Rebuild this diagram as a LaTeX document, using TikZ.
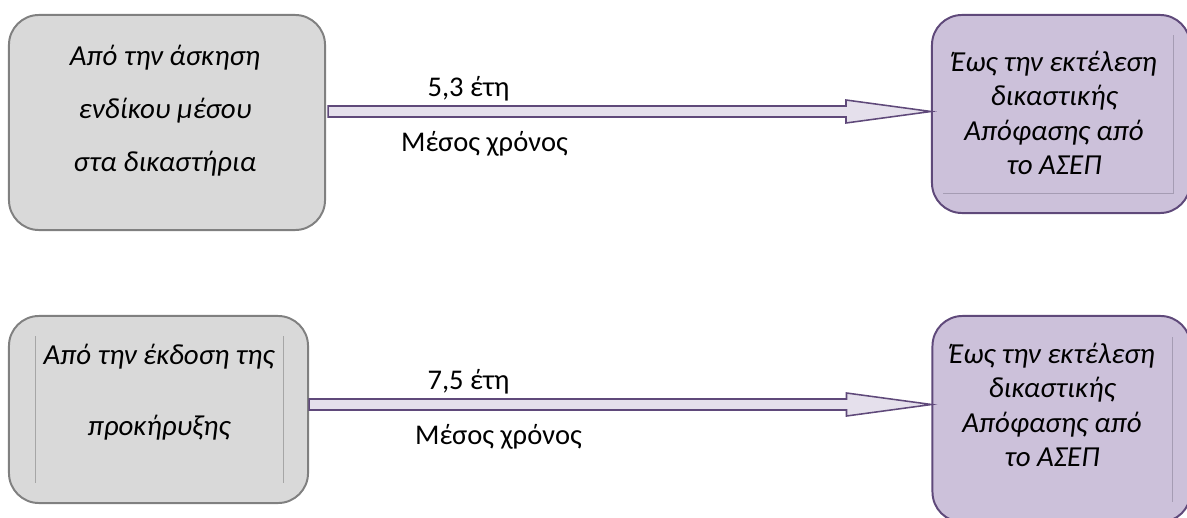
\documentclass[tikz,border=0pt]{standalone}
\usepackage{fontspec}
\setmainfont{Carlito}
\usepackage{tikz}
\usetikzlibrary{positioning,calc}
\definecolor{grayfill}{HTML}{D9D9D9}
\definecolor{graydraw}{HTML}{808080}
\definecolor{lilacfill}{HTML}{CCC1DA}
\definecolor{lilacdraw}{HTML}{5F497A}
\definecolor{arrowfill}{HTML}{E5E0EC}
\definecolor{frameline}{HTML}{A6A6A6}
\definecolor{lilacframe}{HTML}{A59CB3}

\begin{document}
\begin{tikzpicture}[x=0.025cm, y=-0.025cm, line join=miter]
\tikzstyle{every node}=[inner sep=0pt, font=\fontsize{20}{24}\selectfont]
\tikzstyle{from box}=[rectangle, rounded corners=0.75cm, fill=grayfill, draw=graydraw, line width=1.4pt]
\tikzstyle{to box}=[rectangle, rounded corners=0.75cm, fill=lilacfill, draw=lilacdraw, line width=1.4pt, minimum width=6.45cm]
\tikzstyle{box text}=[align=center, font=\itshape\fontsize{20.6}{24.5}\selectfont]
\tikzstyle{time label}=[font=\fontsize{20.3}{24}\selectfont]
\tikzstyle{block arrow}=[fill=arrowfill, draw=lilacdraw, line width=1.1pt]
\useasboundingbox (0,0) rectangle (1187,518);

% boxes
\node[from box, minimum width=7.9cm, minimum height=5.375cm] (askisi) at (167,122.5) {};
\node[box text] (askisi text) at (165,110.5) {Από την άσκηση\\[13.2pt] ενδίκου μέσου\\[13.2pt] στα δικαστήρια};
\node[to box, minimum height=4.95cm] (ektelesi1) at (1061,114) {};
\node[box text] (ektelesi1 text) at (1054,113) {Έως την εκτέλεση\\ δικαστικής\\ Απόφασης από\\ το ΑΣΕΠ};

\node[from box, minimum width=7.475cm, minimum height=4.675cm] (ekdosi) at (158.5,409.5) {};
\node[box text] (ekdosi text) at (159,392.5) {Από την έκδοση της\\[26pt] προκήρυξης};
\node[to box, minimum height=5.15cm] (ektelesi2) at (1061.5,419) {};
\node[box text] (ektelesi2 text) at (1052,405) {Έως την εκτέλεση\\ δικαστικής\\ Απόφασης από\\ το ΑΣΕΠ};

% text box frames
\draw[frameline, line width=0.6pt] (35,336) -- (35,483) (283,336) -- (283,483);
\draw[lilacframe, line width=0.6pt] (943,193) -- (1173,193) -- (1173,35);
\draw[lilacframe, line width=0.6pt] (1172,337) -- (1172,502);

% arrows
\coordinate (tip1) at ($(ektelesi1.west)+(0,-2.5)$);
\coordinate (start1) at (askisi.east |- tip1);
\draw[block arrow] ($(start1)+(2,-5.5)$) -- ($(tip1)+(-85,-5.5)$) -- ++(0,-6) -- (tip1)
  -- ($(tip1)+(-85,11.5)$) -- ++(0,-6) -- ($(start1)+(2,5.5)$) -- cycle;
\coordinate (tip2) at ($(ektelesi2.west)+(0,-14.5)$);
\coordinate (start2) at (ekdosi.east |- tip2);
\draw[block arrow] ($(start2)+(0,-5.5)$) -- ($(tip2)+(-85,-5.5)$) -- ++(0,-6) -- (tip2)
  -- ($(tip2)+(-85,11.5)$) -- ++(0,-6) -- ($(start2)+(0,5.5)$) -- cycle;

% labels
\node[time label] (years1) at (468.5,88.5) {5,3 έτη};
\node[time label] (mean1) at (484.5,143.5) {Μέσος χρόνος};
\node[time label] (years2) at (468.5,382) {7,5 έτη};
\node[time label] (mean2) at (498.5,437) {Μέσος χρόνος};
\end{tikzpicture}
\end{document}
